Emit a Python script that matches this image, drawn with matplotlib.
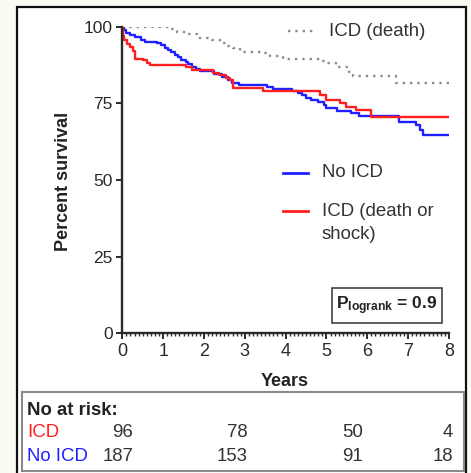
import matplotlib.pyplot as plt
from matplotlib.patches import Rectangle
from matplotlib.lines import Line2D
from matplotlib.ticker import MultipleLocator

plt.rcParams['font.family'] = 'Liberation Sans'
plt.rcParams['mathtext.fontset'] = 'custom'
plt.rcParams['mathtext.rm'] = 'Liberation Sans'
plt.rcParams['mathtext.bf'] = 'Liberation Sans:bold'
plt.rcParams['mathtext.it'] = 'Liberation Sans:italic'

# Kaplan-Meier estimates (years, percent surviving)
no_icd_t = [0, 0.05, 0.1, 0.2, 0.3, 0.45, 0.55, 0.85, 0.95, 1.05, 1.12, 1.2, 1.28, 1.36,
            1.44, 1.55, 1.62, 1.7, 1.8, 1.9, 2.25, 2.45, 2.6, 2.68, 2.85, 3.55, 3.7, 4.15,
            4.3, 4.4, 4.5, 4.62, 4.8, 4.95, 5.0, 5.25, 5.6, 5.8, 6.78, 7.2, 7.28, 7.36, 8.0]
no_icd_s = [100, 99, 98, 97.3, 96.6, 95.7, 95.1, 94.6, 94.0, 93.0, 92.4, 91.6, 90.8, 90.0,
            89.2, 88.6, 87.8, 87.0, 86.3, 85.7, 84.6, 83.6, 82.6, 81.5, 80.9, 80.4, 79.6, 79.0,
            78.3, 77.6, 76.9, 76.1, 75.3, 74.3, 73.4, 72.5, 71.8, 70.8, 69.0, 67.8, 66.3, 64.6, 64.6]

icd_shock_t = [0, 0.02, 0.05, 0.12, 0.2, 0.25, 0.32, 0.5, 0.6, 0.68, 1.57, 1.7, 2.22, 2.38,
               2.55, 2.63, 2.71, 3.45, 4.83, 5.0, 5.32, 5.49, 5.73, 6.1, 8.0]
icd_shock_s = [100, 97, 95.5, 94.5, 93.3, 92.2, 89.6, 89.0, 88.2, 87.5, 86.8, 85.9, 85.0, 84.2,
               83.4, 82.6, 80.0, 79.0, 77.6, 76.1, 75.0, 73.9, 72.8, 70.6, 70.6]

icd_death_t = [0, 1.17, 1.33, 1.57, 1.82, 2.2, 2.39, 2.55, 2.71, 2.88, 3.45, 3.61, 3.94,
               4.83, 5.0, 5.24, 5.56, 5.65, 6.71, 8.0]
icd_death_s = [100, 99.2, 98.4, 97.6, 96.2, 95.6, 94.6, 93.8, 92.9, 91.8, 91.3, 90.4, 89.6,
               88.8, 88.0, 86.9, 85.3, 83.8, 81.5, 81.5]

risk_groups = ['ICD', 'No ICD']
risk_icd = [96, 78, 50, 4]
risk_no_icd = [187, 153, 91, 18]
p_logrank = 0.9

RED = '#ff1f1f'
BLUE = '#1f1fff'
GREY = '#8c8c8c'

W, H = 471, 473
fig = plt.figure(figsize=(W / 100, H / 100), dpi=100)
fig.patch.set_facecolor('#fbfbf3')


def fx(px):
    return px / W


def fy(py):
    return 1 - py / H


# white panel with black frame, kept behind the axes
fig.patches.append(Rectangle((fx(17), fy(490)), fx(466) - fx(17), fy(7) - fy(490),
                             transform=fig.transFigure, fc='white', ec='#111111', lw=1.6, zorder=-5))

ax = fig.add_axes([fx(122.3), fy(333.2), fx(449) - fx(122.3), fy(26.7) - fy(333.2)], zorder=2)
ax.set_facecolor('none')
ax.step(icd_death_t, icd_death_s, where='post', color=GREY, lw=1.7, linestyle=(0, (1, 2.1)))
ax.step(no_icd_t, no_icd_s, where='post', color=BLUE, lw=1.7)
ax.step(icd_shock_t, icd_shock_s, where='post', color=RED, lw=1.7)

ax.set_xlim(0, 8)
ax.set_ylim(0, 100)
ax.set_yticks([0, 25, 50, 75, 100])
ax.set_xticks(range(9))
ax.xaxis.set_minor_locator(MultipleLocator(0.1))
for s in ['top', 'right']:
    ax.spines[s].set_visible(False)
for s in ['left', 'bottom']:
    ax.spines[s].set_linewidth(1.7)
    ax.spines[s].set_color('#2a2a2a')
ax.tick_params(which='major', length=4, width=1.4, color='#2a2a2a', labelsize=12.5,
               labelcolor='#2a2a2a', pad=3)
ax.tick_params(which='minor', length=2.2, width=1.0, color='#2a2a2a')
for lab in ax.get_xticklabels():
    lab.set_fontsize(13)

fig.text(fx(63), fy(181), 'Percent survival', rotation=90, ha='center', va='center',
         fontsize=13, fontweight='bold', color='#222222')
fig.text(fx(285), fy(381.7), 'Years', ha='center', va='center',
         fontsize=13, fontweight='bold', color='#222222')

# legend entries
fig.lines.append(Line2D([fx(288), fx(313)], [fy(31), fy(31)], transform=fig.transFigure,
                        color=GREY, lw=1.7, linestyle=(0, (1, 2.1))))
fig.text(fx(329), fy(31), 'ICD (death)', ha='left', va='center', fontsize=13.4, color='#333333')
fig.lines.append(Line2D([fx(283), fx(308)], [fy(172.7), fy(172.7)], transform=fig.transFigure,
                        color=BLUE, lw=2))
fig.text(fx(322), fy(172.7), 'No ICD', ha='left', va='center', fontsize=13.4, color='#333333')
fig.lines.append(Line2D([fx(283), fx(308)], [fy(211), fy(211)], transform=fig.transFigure,
                        color=RED, lw=2))
fig.text(fx(322), fy(211), 'ICD (death or', ha='left', va='center', fontsize=13.4, color='#333333')
fig.text(fx(322), fy(234), 'shock)', ha='left', va='center', fontsize=13.4, color='#333333')

# log-rank box
fig.patches.append(Rectangle((fx(331.7), fy(323.3)), fx(441.7) - fx(331.7), fy(287.7) - fy(323.3),
                             transform=fig.transFigure, fc='white', ec='#333333', lw=1.1))
fig.text(fx(386.7), fy(305.5), r'$\mathbf{P}_{\mathbf{logrank}}$ = %.1f' % p_logrank,
         ha='center', va='center', fontsize=12.5, fontweight='bold', color='#222222')

# numbers at risk
fig.patches.append(Rectangle((fx(22), fy(471)), fx(464) - fx(22), fy(392) - fy(471),
                             transform=fig.transFigure, fc='none', ec='#8a8a8a', lw=1.5))
fig.text(fx(27), fy(410), 'No at risk:', ha='left', va='center', fontsize=13.4,
         fontweight='bold', color='#222222')
col_right = [133, 248, 363, 453]
for name, counts, color, row_y in zip(risk_groups, [risk_icd, risk_no_icd], [RED, BLUE], [432, 456]):
    fig.text(fx(27), fy(row_y), name, ha='left', va='center', fontsize=13.4, color=color)
    for n, xr in zip(counts, col_right):
        fig.text(fx(xr), fy(row_y), str(n), ha='right', va='center', fontsize=13.4, color='#333333')

plt.savefig('out.png', dpi=100, facecolor=fig.get_facecolor())
